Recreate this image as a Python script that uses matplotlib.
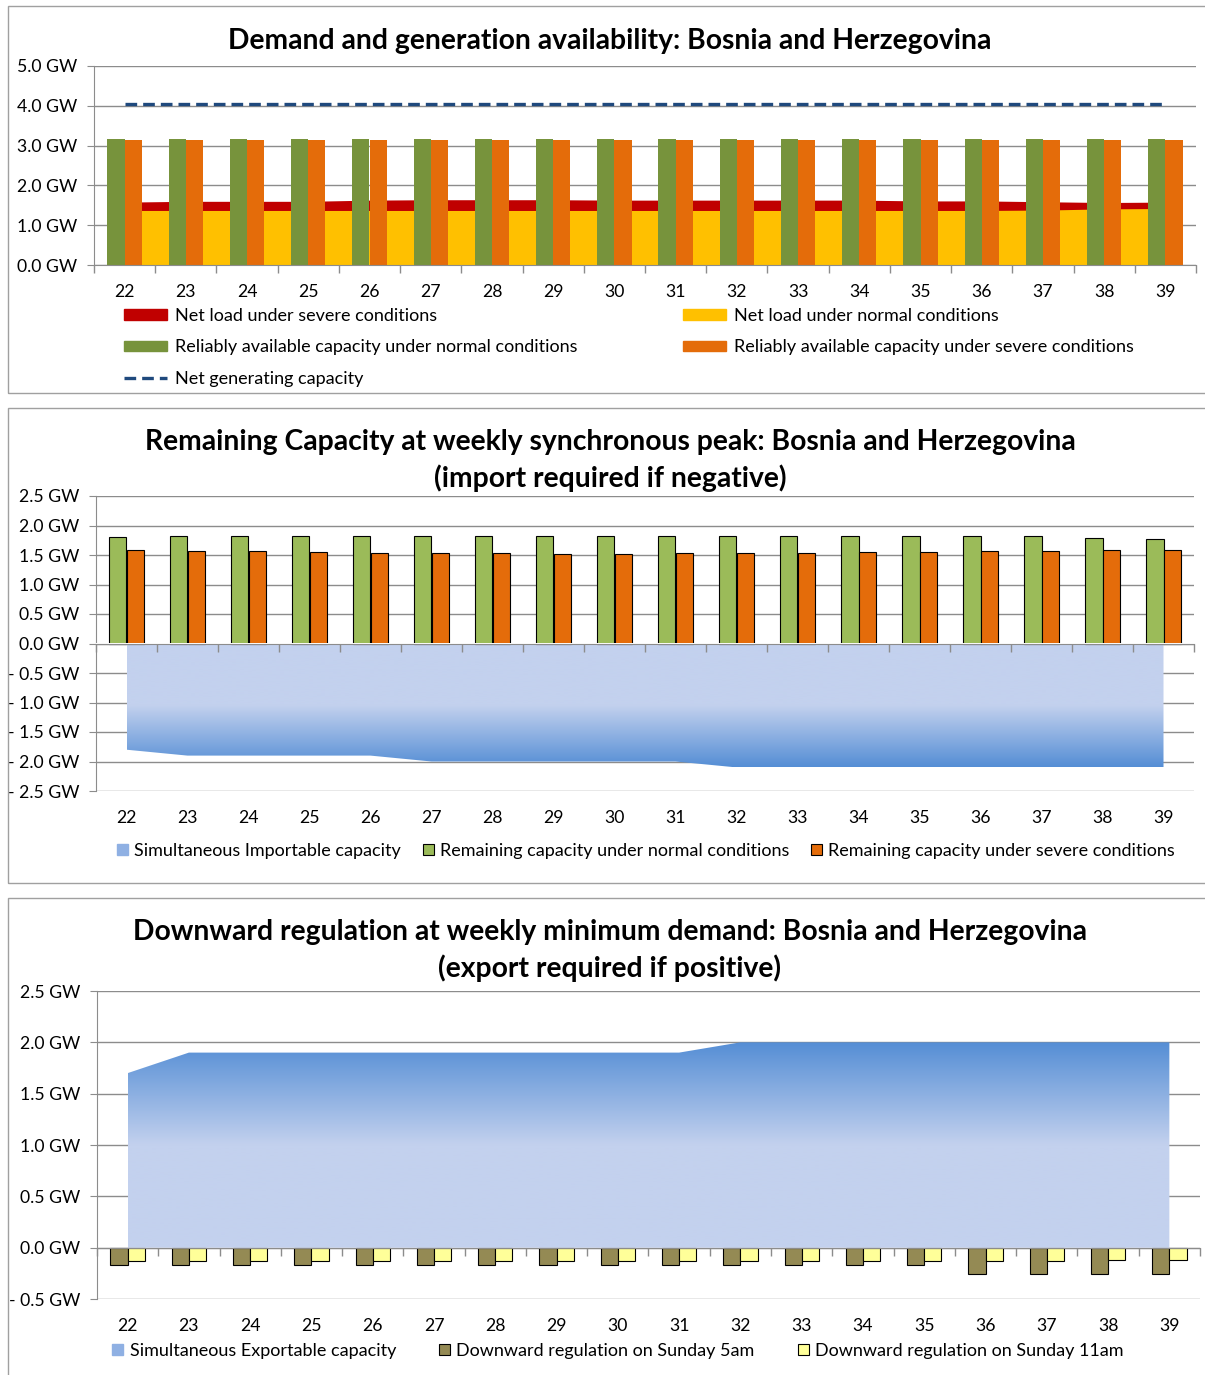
import numpy as np
import matplotlib
matplotlib.use('Agg')
import matplotlib.pyplot as plt
from matplotlib.patches import Rectangle, Patch
from matplotlib.lines import Line2D
from matplotlib.colors import LinearSegmentedColormap
from matplotlib.ticker import FuncFormatter, MultipleLocator

plt.rcParams['font.family'] = ['Lato', 'DejaVu Sans']

W, H = 1205, 1375

weeks = [22, 23, 24, 25, 26, 27, 28, 29, 30, 31, 32, 33, 34, 35, 36, 37, 38, 39]

# demand and generation availability (GW)
net_load_severe = [1.58, 1.60, 1.60, 1.60, 1.63, 1.64, 1.64, 1.64, 1.63,
                   1.63, 1.63, 1.63, 1.63, 1.61, 1.61, 1.59, 1.57, 1.58]
net_load_normal = [1.37, 1.37, 1.37, 1.37, 1.37, 1.37, 1.37, 1.37, 1.37,
                   1.37, 1.37, 1.37, 1.37, 1.37, 1.37, 1.38, 1.41, 1.42]
reliable_normal = [3.17, 3.17, 3.17, 3.17, 3.17, 3.17, 3.17, 3.17, 3.17,
                   3.17, 3.17, 3.17, 3.17, 3.17, 3.17, 3.17, 3.17, 3.17]
reliable_severe = [3.14, 3.14, 3.14, 3.14, 3.14, 3.14, 3.14, 3.14, 3.14,
                   3.14, 3.14, 3.14, 3.14, 3.14, 3.14, 3.14, 3.14, 3.14]
net_generating = [4.05, 4.05, 4.05, 4.05, 4.05, 4.05, 4.05, 4.05, 4.05,
                  4.05, 4.05, 4.05, 4.05, 4.05, 4.05, 4.05, 4.05, 4.05]

# remaining capacity at weekly synchronous peak (GW)
remaining_normal = [1.80, 1.82, 1.82, 1.82, 1.82, 1.82, 1.82, 1.82, 1.82,
                    1.82, 1.82, 1.82, 1.82, 1.82, 1.82, 1.82, 1.79, 1.77]
remaining_severe = [1.59, 1.57, 1.57, 1.55, 1.53, 1.53, 1.53, 1.51, 1.51,
                    1.53, 1.53, 1.53, 1.55, 1.55, 1.57, 1.57, 1.59, 1.59]
importable = [-1.8, -1.9, -1.9, -1.9, -1.9, -2.0, -2.0, -2.0, -2.0,
              -2.0, -2.1, -2.1, -2.1, -2.1, -2.1, -2.1, -2.1, -2.1]

# downward regulation at weekly minimum demand (GW)
exportable = [1.7, 1.9, 1.9, 1.9, 1.9, 1.9, 1.9, 1.9, 1.9,
              1.9, 2.0, 2.0, 2.0, 2.0, 2.0, 2.0, 2.0, 2.0]
sunday_5am = [-0.17, -0.17, -0.17, -0.17, -0.17, -0.17, -0.17, -0.17, -0.17,
              -0.17, -0.17, -0.17, -0.17, -0.17, -0.26, -0.26, -0.26, -0.26]
sunday_11am = [-0.13, -0.13, -0.13, -0.13, -0.13, -0.13, -0.13, -0.13, -0.13,
               -0.13, -0.13, -0.13, -0.13, -0.13, -0.13, -0.13, -0.12, -0.12]

GRID = '#8c8c8c'
FRAME = '#a0a0a0'
AREA_LIGHT = '#c3d1ee'
AREA_DARK = '#558ed5'
AREA_CMAP = LinearSegmentedColormap.from_list('area', [AREA_LIGHT, AREA_DARK])
FS = 13
TICK_FS = 12.7
TITLE_FS = 20.3


def px_axes(fig, x0, y0, x1, y1):
    return fig.add_axes([x0 / W, 1 - y1 / H, (x1 - x0) / W, (y1 - y0) / H])


def fig_xy(x, y):
    return (x / W, 1 - y / H)


def gw_fmt(v, pos):
    if v < -1e-9:
        return '- {:.1f} GW'.format(abs(v))
    return '{:.1f} GW'.format(abs(v))


def style_axis(ax, ymin, ymax, step):
    ax.set_xlim(weeks[0] - 0.5, weeks[-1] + 0.5)
    ax.set_ylim(ymin, ymax)
    ax.yaxis.set_major_locator(MultipleLocator(step))
    ax.yaxis.set_major_formatter(FuncFormatter(gw_fmt))
    ax.grid(axis='y', color=GRID, lw=1.0)
    ax.set_axisbelow(True)
    for s in ['top', 'right', 'bottom']:
        ax.spines[s].set_visible(False)
    ax.spines['left'].set_color(GRID)
    ax.tick_params(axis='y', length=5, color=GRID, pad=7, labelsize=TICK_FS)
    ax.set_xticks(weeks)
    ax.set_xticklabels([str(w) for w in weeks])
    ax.tick_params(axis='x', length=0, pad=14, labelsize=TICK_FS)
    # category boundary ticks sit on the zero line
    frac = (0 - ymin) / (ymax - ymin)
    sec = ax.secondary_xaxis(frac)
    sec.set_alignment('bottom')
    sec.set_xticks(np.arange(weeks[0] - 0.5, weeks[-1] + 1.0, 1.0))
    sec.set_xticklabels([])
    sec.tick_params(axis='x', length=6, color=GRID, width=1)
    sec.spines['bottom'].set_color(GRID)
    sec.set_zorder(5)


def gradient_area(ax, x, y):
    poly = ax.fill_between(x, 0, y, facecolor='none', edgecolor='none')
    path = poly.get_paths()[0]
    lo, hi = min(0, min(y)), max(0, max(y))
    vals = np.linspace(lo, hi, 256)
    peak = max(abs(lo), abs(hi))
    t = np.clip((np.abs(vals) / peak - 0.5) / 0.5, 0, 1)
    im = ax.imshow(t.reshape(-1, 1), cmap=AREA_CMAP, vmin=0, vmax=1,
                   extent=[x[0], x[-1], lo, hi], origin='lower',
                   aspect='auto', interpolation='bilinear', zorder=1)
    im.set_clip_path(path, transform=ax.transData)


def frame(fig, y0, y1):
    fig.add_artist(Rectangle(fig_xy(8, y1), (1215 - 8) / W, (y1 - y0) / H,
                             transform=fig.transFigure, fill=False,
                             edgecolor=FRAME, lw=1.0))


fig = plt.figure(figsize=(W / 100, H / 100), dpi=100)
x = np.array(weeks, dtype=float)
bw = 0.28

frame(fig, 6, 393)
frame(fig, 408, 883)
frame(fig, 898, 1385)

# ---------------- chart 1 ----------------
ax1 = px_axes(fig, 94, 66, 1196, 265)
style_axis(ax1, 0, 5, 1)
ax1.fill_between(x, 0, net_load_severe, color='#c00000', lw=0, zorder=1)
ax1.fill_between(x, 0, net_load_normal, color='#ffc000', lw=0, zorder=1.5)
ax1.bar(x - bw / 2, reliable_normal, bw, color='#77933c', zorder=2)
ax1.bar(x + bw / 2, reliable_severe, bw, color='#e46c0a', zorder=2)
ax1.plot(x, net_generating, color='#1f497d', lw=2.4, dashes=(3.5, 1.8), zorder=3)
fig.text(610 / W, 1 - 41 / H, 'Demand and generation availability: Bosnia and Herzegovina',
         ha='center', va='center', fontsize=TITLE_FS, fontweight='bold')

h_red = Patch(color='#c00000')
h_yel = Patch(color='#ffc000')
h_grn = Patch(color='#77933c')
h_org = Patch(color='#e46c0a')
h_dash = Line2D([], [], color='#1f497d', lw=2.4, dashes=(3.5, 1.8))
leg_kw = dict(loc='upper left', frameon=False, fontsize=FS, handlelength=2.4,
              handleheight=0.55, labelspacing=0.85, handletextpad=0.4,
              borderaxespad=0, borderpad=0)
fig.legend([h_red, h_grn, h_dash],
           ['Net load under severe conditions',
            'Reliably available capacity under normal conditions',
            'Net generating capacity'],
           bbox_to_anchor=fig_xy(124, 308), **leg_kw)
fig.legend([h_yel, h_org],
           ['Net load under normal conditions',
            'Reliably available capacity under severe conditions'],
           bbox_to_anchor=fig_xy(683, 308), **leg_kw)

# ---------------- chart 2 ----------------
ax2 = px_axes(fig, 96, 496, 1194, 791)
style_axis(ax2, -2.5, 2.5, 0.5)
gradient_area(ax2, x, importable)
ax2.bar(x - bw / 2, remaining_normal, bw, color='#9bbb59', edgecolor='black', lw=0.8, zorder=2)
ax2.bar(x + bw / 2, remaining_severe, bw, color='#e46c0a', edgecolor='black', lw=0.8, zorder=2)
ax2.set_xlim(weeks[0] - 0.5, weeks[-1] + 0.5)
ax2.set_ylim(-2.5, 2.5)
fig.text(610 / W, 1 - 442 / H,
         'Remaining Capacity at weekly synchronous peak: Bosnia and Herzegovina',
         ha='center', va='center', fontsize=TITLE_FS, fontweight='bold')
fig.text(610 / W, 1 - 478 / H, '(import required if negative)',
         ha='center', va='center', fontsize=TITLE_FS, fontweight='bold')
sq_kw = dict(loc='center', frameon=False, fontsize=FS, handlelength=0.6,
             handleheight=0.6, handletextpad=0.35, columnspacing=1.2,
             borderaxespad=0, borderpad=0, ncol=3)
fig.legend([Patch(color='#8fb0e3'),
            Patch(facecolor='#9bbb59', edgecolor='black', lw=0.8),
            Patch(facecolor='#e46c0a', edgecolor='black', lw=0.8)],
           ['Simultaneous Importable capacity',
            'Remaining capacity under normal conditions',
            'Remaining capacity under severe conditions'],
           bbox_to_anchor=fig_xy(646, 851), **sq_kw)

# ---------------- chart 3 ----------------
ax3 = px_axes(fig, 97, 991, 1200, 1299)
style_axis(ax3, -0.5, 2.5, 0.5)
gradient_area(ax3, x, exportable)
ax3.bar(x - bw / 2, sunday_5am, bw, color='#948a54', edgecolor='black', lw=0.8, zorder=2)
ax3.bar(x + bw / 2, sunday_11am, bw, color='#ffff99', edgecolor='black', lw=0.8, zorder=2)
ax3.set_xlim(weeks[0] - 0.5, weeks[-1] + 0.5)
ax3.set_ylim(-0.5, 2.5)
fig.text(610 / W, 1 - 932 / H,
         'Downward regulation at weekly minimum demand: Bosnia and Herzegovina',
         ha='center', va='center', fontsize=TITLE_FS, fontweight='bold')
fig.text(610 / W, 1 - 968 / H, '(export required if positive)',
         ha='center', va='center', fontsize=TITLE_FS, fontweight='bold')
sq_kw3 = dict(sq_kw, columnspacing=2.4)
fig.legend([Patch(color='#8fb0e3'),
            Patch(facecolor='#948a54', edgecolor='black', lw=0.8),
            Patch(facecolor='#ffff99', edgecolor='black', lw=0.8)],
           ['Simultaneous Exportable capacity',
            'Downward regulation on Sunday 5am',
            'Downward regulation on Sunday 11am'],
           bbox_to_anchor=fig_xy(618, 1351), **sq_kw3)

fig.savefig('out.png', dpi=100)
